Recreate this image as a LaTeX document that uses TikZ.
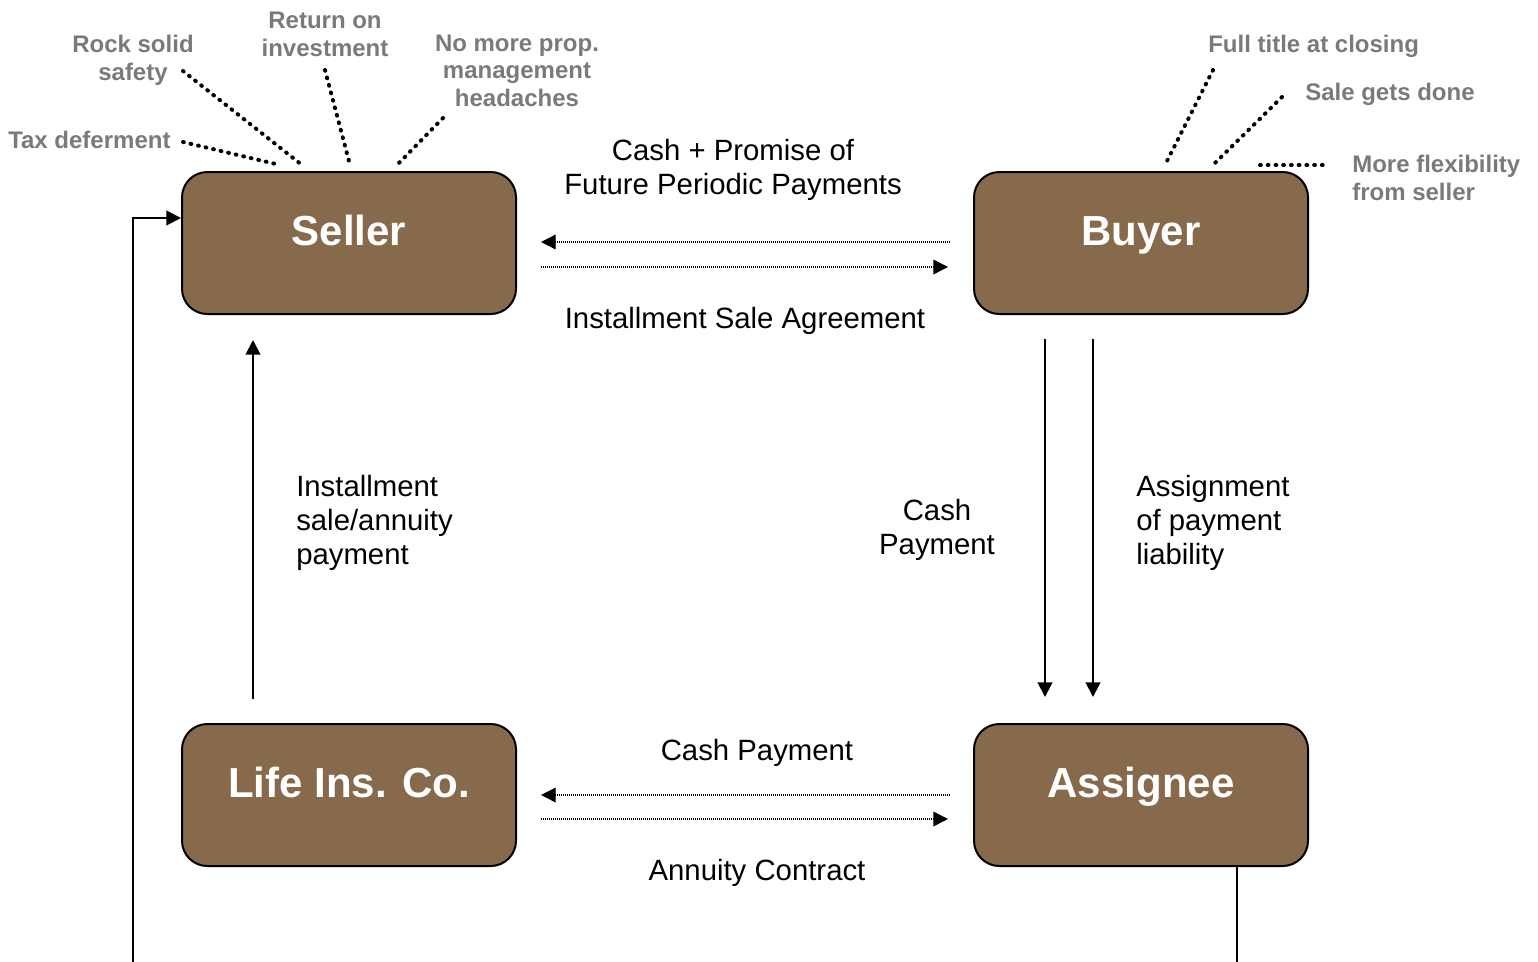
\documentclass[tikz,border=0pt]{standalone}
\usepackage{fontspec}
\setmainfont{Liberation Sans}
\usetikzlibrary{arrows.meta}
\definecolor{boxfill}{HTML}{876A4B}
\definecolor{notegray}{HTML}{7A7A7A}
\begin{document}
\begin{tikzpicture}[x=0.75pt,y=-0.75pt,
  box/.style={draw=black,line width=1.5pt,fill=boxfill,rounded corners=19pt,
    minimum width=250.5pt,minimum height=106.5pt,inner sep=0pt},
  boxtext/.style={text=white,font=\bfseries\fontsize{31.5}{37}\selectfont,anchor=base,inner sep=0pt},
  note/.style={text=notegray,font=\bfseries\fontsize{18}{20.6}\selectfont,anchor=base,inner sep=0pt},
  lbl/.style={text=black,font=\fontsize{22}{25.5}\selectfont,anchor=base,inner sep=0pt},
  leader/.style={line width=3pt,dash pattern=on 0.6pt off 5.2pt,line cap=round},
  dotarrow/.style={line width=1pt,dash pattern=on 0.75pt off 0.75pt,-{Triangle[length=11pt,width=11pt]}},
  solidarrow/.style={line width=1.5pt,-{Triangle[length=11pt,width=11pt]}}
]
\useasboundingbox (0,0) rectangle (1538,961);
\clip (0,0) rectangle (1538,961);

% boxes
\node[box] (seller) at (349,243) {};
\node[box] (buyer) at (1141,243) {};
\node[box] (life) at (349,795) {};
\node[box] (assignee) at (1141,795) {};
\node[boxtext] (sellert) at (349,245) {Seller};
\node[boxtext] (buyert) at (1141,245) {Buyer};
\node[boxtext] (lifet) at (349,797) {Life Ins. Co.};
\node[boxtext] (assigneet) at (1141,797) {Assignee};

% gray notes (base = last line baseline)
\node[note,align=center] (rock) at (133,80) {Rock solid\\safety};
\node[note,align=center] (ret) at (325,56) {Return on\\investment};
\node[note,align=center] (nomore) at (517,106) {No more prop.\\management\\headaches};
\node[note,anchor=base west] (tax) at (8,148) {Tax deferment};
\node[note,anchor=base west] (full) at (1208,52) {Full title at closing};
\node[note,anchor=base west] (sale) at (1305,100) {Sale gets done};
\node[note,anchor=base west,align=left] (flex) at (1352,200) {More flexibility\\from seller};

% leaders
\coordinate (l1a) at (183,142); \coordinate (l1b) at (280,165);
\coordinate (l2a) at (183,71);  \coordinate (l2b) at (302,165);
\coordinate (l3a) at (325,70);  \coordinate (l3b) at (350,165);
\coordinate (l4a) at (443,118); \coordinate (l4b) at (397,165);
\coordinate (l5a) at (1213,70); \coordinate (l5b) at (1165,165);
\coordinate (l6a) at (1282,97); \coordinate (l6b) at (1213,165);
\coordinate (l7a) at (1260,165); \coordinate (l7b) at (1328,165);
\foreach \i in {1,...,7} {\draw[leader] (l\i a) -- (l\i b);}

% horizontal dotted arrows
\draw[dotarrow] ([shift={(-23,-1)}]buyer.west) -- ([shift={(24,-1)}]seller.east);
\draw[dotarrow] ([shift={(24,24)}]seller.east) -- ([shift={(-25,24)}]buyer.west);
\draw[dotarrow] ([shift={(-23,0)}]assignee.west) -- ([shift={(24,0)}]life.east);
\draw[dotarrow] ([shift={(24,24)}]life.east) -- ([shift={(-25,24)}]assignee.west);

% vertical arrows
\draw[solidarrow] ([shift={(-96,-24)}]life.north) -- ([shift={(-96,25)}]seller.south);
\draw[solidarrow] ([shift={(-96,24)}]buyer.south) -- ([shift={(-96,-26)}]assignee.north);
\draw[solidarrow] ([shift={(-48,24)}]buyer.south) -- ([shift={(-48,-26)}]assignee.north);

% feedback line
\coordinate (fb) at (133,1000);
\draw[solidarrow] ([shift={(96,0)}]assignee.south) |- (fb) |- ([shift={(0,-25)}]seller.west);

% black labels
\node[lbl,align=center] (cashprom) at (733,194) {Cash + Promise of\\Future Periodic Payments};
\node[lbl] (isa) at (745,328) {Installment Sale Agreement};
\node[lbl,anchor=base west,align=left] (inst) at (296,564) {Installment\\sale/annuity\\payment};
\node[lbl,align=center] (cashpay) at (937,554) {Cash\\Payment};
\node[lbl,anchor=base west,align=left] (assign) at (1136,564) {Assignment\\of payment\\liability};
\node[lbl] (cashpay2) at (757,760) {Cash Payment};
\node[lbl] (annuity) at (757,880) {Annuity Contract};
\end{tikzpicture}
\end{document}
